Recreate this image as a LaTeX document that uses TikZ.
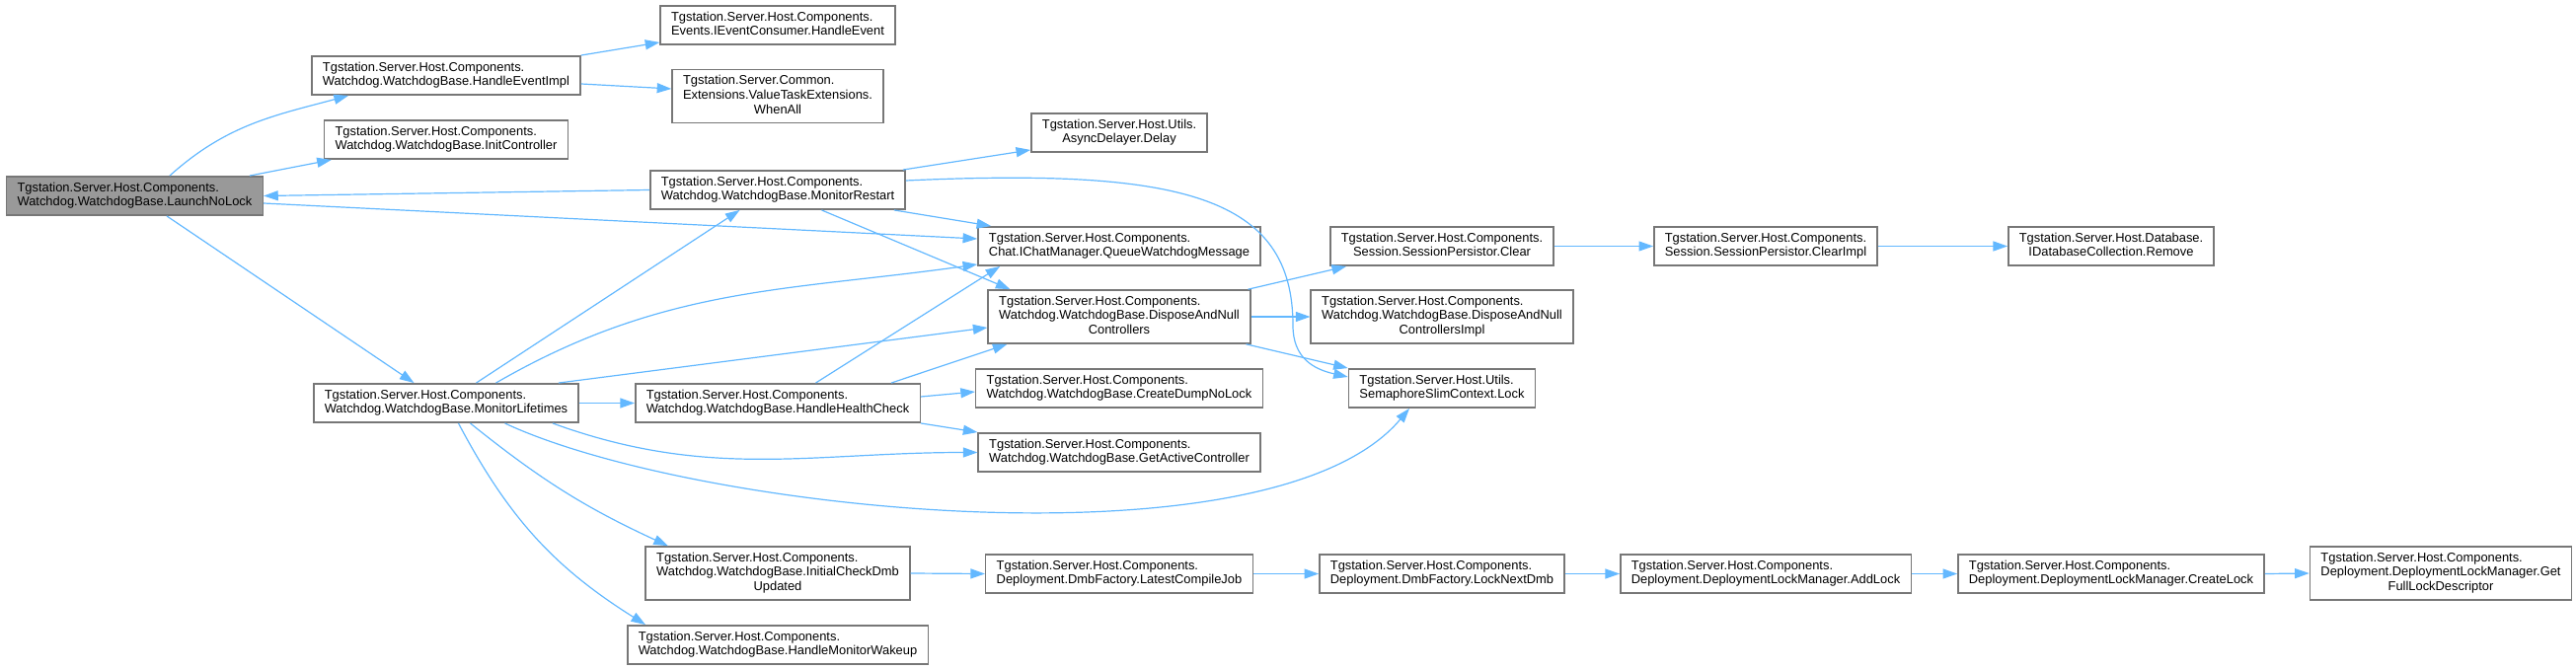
\documentclass[tikz,border=0pt]{standalone}
\usepackage{fontspec}
\setmainfont{Liberation Sans}
\usetikzlibrary{arrows.meta,positioning}
\definecolor{EdgeBlue}{HTML}{63B8FF}
\definecolor{BoxGrey}{HTML}{777777}
\definecolor{RootGrey}{HTML}{999999}
% label lines: left aligned, the last one centred
\newcommand{\twol}[2]{\begin{tabular}{@{}l@{}}#1\\\multicolumn{1}{@{}c@{}}{#2}\end{tabular}}
\newcommand{\threel}[3]{\begin{tabular}{@{}l@{}}#1\\#2\\\multicolumn{1}{@{}c@{}}{#3}\end{tabular}}

\begin{document}
\begin{tikzpicture}[x=0.5pt,y=-0.5pt,
  every node/.style={font=\fontsize{6.45}{7.35}\selectfont},
  fn/.style={draw=BoxGrey,fill=white,line width=0.75pt,inner xsep=5.5pt,inner ysep=2.5pt},
  root/.style={fn,fill=RootGrey},
  call/.style={-{Triangle[length=7.3pt,width=5pt]},EdgeBlue,line width=0.6pt}]
  \useasboundingbox (0,0) rectangle (2610,679);

  \node[root] (lnl) at (136.5,198.5) {\twol{Tgstation.Server.Host.Components.}{Watchdog.WatchdogBase.LaunchNoLock}};
  \node[fn] (hei) at (452,76.5) {\twol{Tgstation.Server.Host.Components.}{Watchdog.WatchdogBase.HandleEventImpl}};
  \node[fn] (ic) at (452,141.5) {\twol{Tgstation.Server.Host.Components.}{Watchdog.WatchdogBase.InitController}};
  \node[fn] (ml) at (452,408.5) {\twol{Tgstation.Server.Host.Components.}{Watchdog.WatchdogBase.MonitorLifetimes}};
  \node[fn] (hev) at (788,25.5) {\twol{Tgstation.Server.Host.Components.}{Events.IEventConsumer.HandleEvent}};
  \node[fn] (wa) at (788,97.5) {\threel{Tgstation.Server.Common.}{Extensions.ValueTaskExtensions.}{WhenAll}};
  \node[fn] (mr) at (788,192.5) {\twol{Tgstation.Server.Host.Components.}{Watchdog.WatchdogBase.MonitorRestart}};
  \node[fn] (hhc) at (788,408.5) {\twol{Tgstation.Server.Host.Components.}{Watchdog.WatchdogBase.HandleHealthCheck}};
  \node[fn] (icd) at (788,581) {\threel{Tgstation.Server.Host.Components.}{Watchdog.WatchdogBase.InitialCheckDmb}{Updated}};
  \node[fn] (hmw) at (788,653.5) {\twol{Tgstation.Server.Host.Components.}{Watchdog.WatchdogBase.HandleMonitorWakeup}};
  \node[fn] (ad) at (1134,134.5) {\twol{Tgstation.Server.Host.Utils.}{AsyncDelayer.Delay}};
  \node[fn] (qwm) at (1134,249.5) {\twol{Tgstation.Server.Host.Components.}{Chat.IChatManager.QueueWatchdogMessage}};
  \node[fn] (danc) at (1134,321) {\threel{Tgstation.Server.Host.Components.}{Watchdog.WatchdogBase.DisposeAndNull}{Controllers}};
  \node[fn] (cdn) at (1134,393.5) {\twol{Tgstation.Server.Host.Components.}{Watchdog.WatchdogBase.CreateDumpNoLock}};
  \node[fn] (gac) at (1134,458.5) {\twol{Tgstation.Server.Host.Components.}{Watchdog.WatchdogBase.GetActiveController}};
  \node[fn] (lcj) at (1134,581.5) {\twol{Tgstation.Server.Host.Components.}{Deployment.DmbFactory.LatestCompileJob}};
  \node[fn] (spc) at (1461,249.5) {\twol{Tgstation.Server.Host.Components.}{Session.SessionPersistor.Clear}};
  \node[fn] (danci) at (1461,321) {\threel{Tgstation.Server.Host.Components.}{Watchdog.WatchdogBase.DisposeAndNull}{ControllersImpl}};
  \node[fn] (ssl) at (1461,393.5) {\twol{Tgstation.Server.Host.Utils.}{SemaphoreSlimContext.Lock}};
  \node[fn] (lnd) at (1461,581.5) {\twol{Tgstation.Server.Host.Components.}{Deployment.DmbFactory.LockNextDmb}};
  \node[fn] (spci) at (1789,249.5) {\twol{Tgstation.Server.Host.Components.}{Session.SessionPersistor.ClearImpl}};
  \node[fn] (al) at (1789,581.5) {\twol{Tgstation.Server.Host.Components.}{Deployment.DeploymentLockManager.AddLock}};
  \node[fn] (rem) at (2139,249.5) {\twol{Tgstation.Server.Host.Database.}{IDatabaseCollection.Remove}};
  \node[fn] (cl) at (2139,581.5) {\twol{Tgstation.Server.Host.Components.}{Deployment.DeploymentLockManager.CreateLock}};
  \node[fn] (gfl) at (2473,581) {\threel{Tgstation.Server.Host.Components.}{Deployment.DeploymentLockManager.Get}{FullLockDescriptor}};

  % calls out of LaunchNoLock
  \draw[call] ([xshift=17.75pt]lnl.north) to[out=42,in=-165] ([xshift=-49.5pt]hei.south);
  \draw[call] ([xshift=58.25pt]lnl.north) -- ([xshift=4pt]ic.south west);
  \draw[call] ([yshift=-3.75pt]lnl.east) -- ([yshift=3.75pt]qwm.west);
  \draw[call] ([xshift=16.25pt]lnl.south) -- ([xshift=-16.25pt]ml.north);
  \draw[call] (hei.north east) -- ([yshift=1.5pt]hev.south west);
  \draw[call] ([yshift=-4.25pt]hei.east) -- ([yshift=3.75pt]wa.west);
  % MonitorRestart
  \draw[call] (mr.west) -- (lnl.east);
  \draw[call] ([xshift=-1.5pt]mr.north east) -- ([yshift=1.5pt]ad.south west);
  \draw[call] ([xshift=-6pt]mr.south east) -- ([xshift=7pt]qwm.north west);
  \draw[call] ([xshift=22.25pt]mr.south) -- ([xshift=11.5pt]danc.north west);
  \draw[call] ([yshift=4.75pt]mr.east) .. controls (1200,170) and (1310,200) .. (1310,330)
    .. controls (1310,362) and (1330,374) .. ([yshift=5.75pt]ssl.west);
  % MonitorLifetimes
  \draw[call] ([xshift=15.25pt]ml.north) -- ([xshift=-19.25pt]mr.south);
  \draw[call] ([xshift=25.25pt]ml.north) to[out=30,in=-172] ([yshift=1pt]qwm.south west);
  \draw[call] ([xshift=-10.5pt]ml.north east) -- ([yshift=-5.5pt]danc.west);
  \draw[call] (ml.east) -- (hhc.west);
  \draw[call] ([xshift=-13.5pt]ml.south east) to[out=-20,in=180] (gac.west);
  \draw[call] ([xshift=29.75pt]ml.south) to[out=-25,in=-130,looseness=0.6] ([xshift=-16.5pt]ssl.south);
  \draw[call] ([xshift=12.25pt]ml.south) to[bend right=7] ([xshift=11.75pt]icd.north west);
  \draw[call] ([xshift=6.25pt]ml.south) to[bend right=15] ([xshift=9.5pt]hmw.north west);
  % HandleHealthCheck
  \draw[call] ([xshift=19.25pt]hhc.north) -- ([xshift=11.5pt]qwm.south west);
  \draw[call] ([xshift=-15pt]hhc.north east) -- ([xshift=10pt]danc.south west);
  \draw[call] ([yshift=3.25pt]hhc.east) -- ([yshift=-1.75pt]cdn.west);
  \draw[call] (hhc.south east) -- (gac.north west);
  % DisposeAndNullControllers
  \draw[call] ([xshift=-1.5pt]danc.north east) -- ([xshift=8.5pt]spc.south west);
  \draw[call] (danc.east) -- (danci.west);
  \draw[call] ([xshift=-2.5pt]danc.south east) -- (ssl.north west);
  \draw[call] (spc.east) -- (spci.west);
  \draw[call] (spci.east) -- (rem.west);
  % deployment chain
  \draw[call] (icd.east) -- (lcj.west);
  \draw[call] (lcj.east) -- (lnd.west);
  \draw[call] (lnd.east) -- (al.west);
  \draw[call] (al.east) -- (cl.west);
  \draw[call] (cl.east) -- (gfl.west);
\end{tikzpicture}
\end{document}
